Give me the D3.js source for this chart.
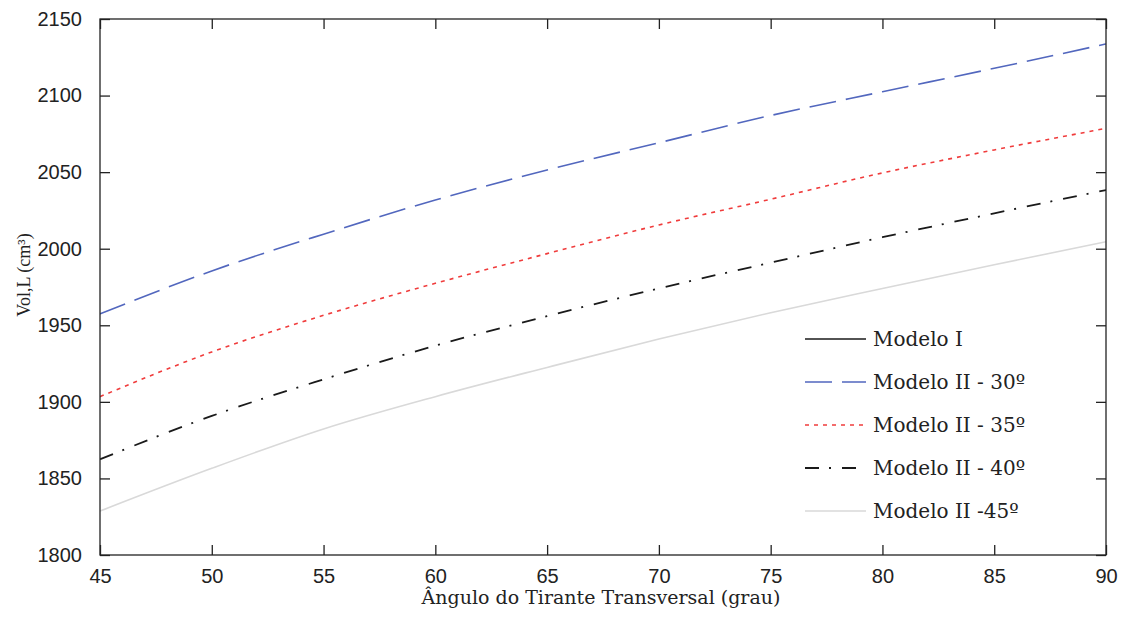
<!DOCTYPE html>
<html>
<head>
<meta charset="utf-8">
<script src="https://cdn.jsdelivr.net/npm/d3@7"></script>
<style>
  html, body { margin: 0; padding: 0; background: #fff; }
  svg { display: block; }
</style>
</head>
<body>
<svg id="chart" width="1123" height="618"></svg>
<script>
// Tie-angle values (degrees) sampled along the x axis
const angles = [45, 50, 55, 60, 65, 70, 75, 80, 85, 90];

// Volume of the tie (cm³) for each model
const modeloI = [];
const modeloII30 = [1957.4, 1985.5, 2009.5, 2031.8, 2051.4, 2069.2, 2087.0, 2102.5, 2117.8, 2133.7];
const modeloII35 = [1903.4, 1932.6, 1956.5, 1977.4, 1996.8, 2015.5, 2032.3, 2049.5, 2064.5, 2078.6];
const modeloII40 = [1862.5, 1890.8, 1914.7, 1936.7, 1956.0, 1974.1, 1990.9, 2007.5, 2023.1, 2038.3];
const modeloII45 = [1828.7, 1856.6, 1882.3, 1903.4, 1922.5, 1941.0, 1958.2, 1974.0, 1989.5, 2004.6];

const seriesNames = ["Modelo I", "Modelo II - 30º", "Modelo II - 35º", "Modelo II - 40º", "Modelo II -45º"];

const xTicks = [45, 50, 55, 60, 65, 70, 75, 80, 85, 90];
const yTicks = [1800, 1850, 1900, 1950, 2000, 2050, 2100, 2150];

const svg = d3.select("#chart");
const plot = { left: 100, right: 1106, top: 19, bottom: 555 };

const x = d3.scaleLinear().domain([45, 90]).range([plot.left, plot.right]);
const y = d3.scaleLinear().domain([1800, 2150]).range([plot.bottom, plot.top]);

const styles = [
  { color: "#1a1a1a", width: 1.5, dash: null },
  { color: "#5267be", width: 1.6, dash: "27,10" },
  { color: "#f03c3c", width: 1.6, dash: "4,5" },
  { color: "#1a1a1a", width: 1.8, dash: "14,10,2,11" },
  { color: "#d9d9d9", width: 1.6, dash: null }
];

const seriesValues = [modeloI, modeloII30, modeloII35, modeloII40, modeloII45];
const series = seriesNames.map((name, i) => ({
  name,
  style: styles[i],
  points: seriesValues[i].map((v, j) => ({ a: angles[j], v }))
}));

// clip region for curves
svg.append("defs").append("clipPath").attr("id", "plotClip")
  .append("rect")
  .attr("x", plot.left).attr("y", plot.top)
  .attr("width", plot.right - plot.left).attr("height", plot.bottom - plot.top);

const line = d3.line()
  .x(d => x(d.a))
  .y(d => y(d.v))
  .curve(d3.curveMonotoneX);

const lines = svg.append("g").attr("clip-path", "url(#plotClip)");
series.forEach(s => {
  if (!s.points.length) return;
  lines.append("path")
    .datum(s.points)
    .attr("d", line)
    .attr("fill", "none")
    .attr("stroke", s.style.color)
    .attr("stroke-width", s.style.width)
    .attr("stroke-dasharray", s.style.dash);
});

// axes: ticks point inward on all four sides
const tickLen = 10;
const axisColor = "#222";
const tickFont = "'Liberation Sans', Arial, sans-serif";

const bottomAxis = d3.axisBottom(x).tickValues(xTicks).tickSize(-tickLen).tickPadding(14).tickFormat(d3.format("d"));
const topAxis = d3.axisTop(x).tickValues(xTicks).tickSize(-tickLen).tickFormat("");
const leftAxis = d3.axisLeft(y).tickValues(yTicks).tickSize(-tickLen).tickPadding(18).tickFormat(d3.format("d"));
const rightAxis = d3.axisRight(y).tickValues(yTicks).tickSize(-tickLen).tickFormat("");

function styleAxis(g) {
  g.select(".domain").attr("stroke", axisColor).attr("stroke-width", 1.3);
  g.selectAll(".tick line").attr("stroke", axisColor).attr("stroke-width", 1.3);
  g.selectAll(".tick text")
    .attr("fill", "#222")
    .style("font-family", tickFont)
    .style("font-size", "20px");
}

svg.append("g").attr("transform", `translate(0,${plot.bottom})`).call(bottomAxis).call(styleAxis);
svg.append("g").attr("transform", `translate(0,${plot.top})`).call(topAxis).call(styleAxis);
svg.append("g").attr("transform", `translate(${plot.left},0)`).call(leftAxis).call(styleAxis);
svg.append("g").attr("transform", `translate(${plot.right},0)`).call(rightAxis).call(styleAxis);

// frame drawn as one rectangle instead of the four domain paths
svg.selectAll(".domain").attr("d", null);
svg.append("rect")
  .attr("x", plot.left).attr("y", plot.top)
  .attr("width", plot.right - plot.left).attr("height", plot.bottom - plot.top)
  .attr("fill", "none").attr("stroke", axisColor).attr("stroke-width", 1.3);

// axis titles
const titleFont = "'DejaVu Serif', serif";
svg.append("text")
  .attr("x", (plot.left + plot.right) / 2 - 2)
  .attr("y", 604)
  .attr("text-anchor", "middle")
  .style("font-family", titleFont)
  .style("font-size", "19px")
  .attr("fill", "#222")
  .text("Ângulo do Tirante Transversal (grau)");

svg.append("text")
  .attr("transform", "translate(30,275) rotate(-90)")
  .attr("text-anchor", "middle")
  .style("font-family", "'Liberation Serif', 'Times New Roman', serif")
  .style("font-size", "18px")
  .attr("fill", "#222")
  .text("Vol,L (cm³)");

// legend
const legend = svg.append("g").attr("transform", "translate(805,339)");
const rowGap = 43;
series.forEach((s, i) => {
  const row = legend.append("g").attr("transform", `translate(0,${i * rowGap})`);
  row.append("line")
    .attr("x1", 0).attr("x2", 61).attr("y1", 0).attr("y2", 0)
    .attr("stroke", s.style.color)
    .attr("stroke-width", s.style.width)
    .attr("stroke-dasharray", s.style.dash);
  row.append("text")
    .attr("x", 68).attr("y", 0).attr("dy", "0.35em")
    .style("font-family", titleFont)
    .style("font-size", "20px")
    .attr("fill", "#222")
    .text(s.name);
});
</script>
</body>
</html>
